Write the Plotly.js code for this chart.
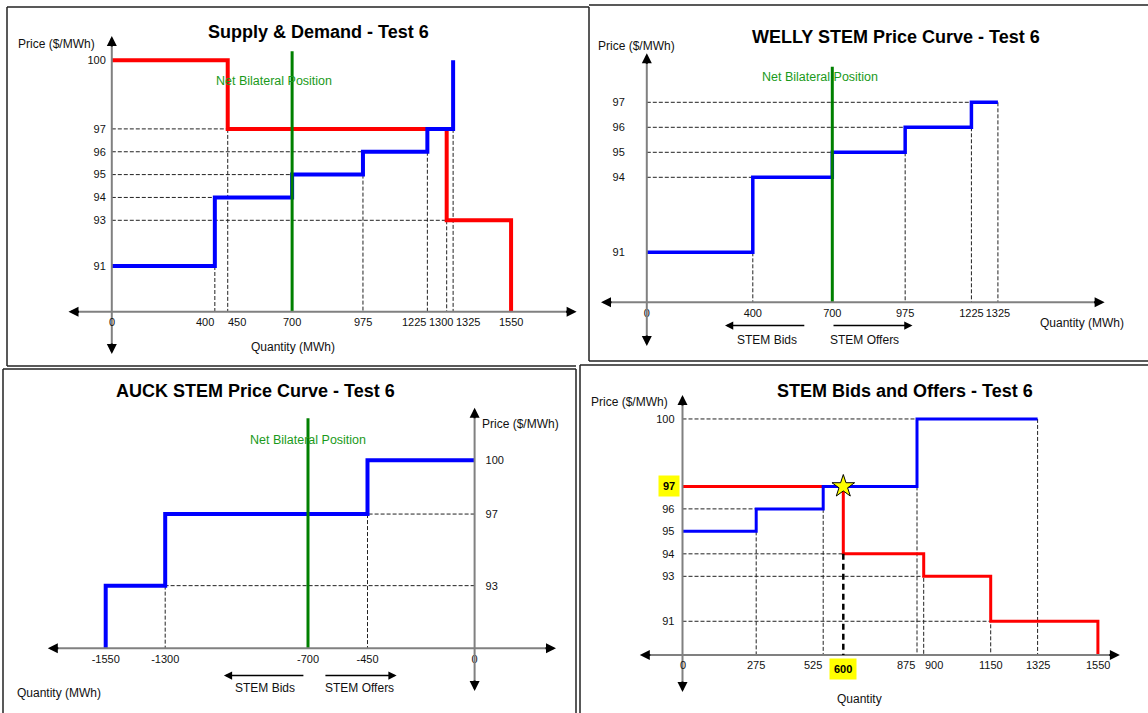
<!DOCTYPE html>
<html><head><meta charset="utf-8">
<script src="https://cdn.plot.ly/plotly-3.0.1.min.js"></script>
<style>html,body{margin:0;padding:0;background:#fff}#chart{width:1148px;height:713px}</style>
</head><body><div id="chart"></div>
<script>
// ---------- Panel 1: Supply & Demand - Test 6 ----------
const sdSupplyQty = [0, 400, 700, 975, 1225, 1325];
const sdSupplyPrice = [91, 94, 95, 96, 97];
const sdSupplyCap = 100;
const sdDemandQty = [0, 450, 1300, 1550];
const sdDemandPrice = [100, 97, 93];
const sdNetBilateral = 700;
const sdXTicks = [0, 400, 450, 700, 975, 1225, 1300, 1325, 1550];
const sdYTicks = [100, 97, 96, 95, 94, 93, 91];
const sdGuideHPrice = [97, 96, 95, 94, 93];
const sdGuideHQty = [450, 975, 700, 400, 1300];
const sdGuideVQty = [400, 450, 975, 1225, 1300, 1325];
const sdGuideVPrice = [91, 97, 95, 96, 93, 97];

// ---------- Panel 2: WELLY STEM Price Curve - Test 6 ----------
const wQty = [0, 400, 700, 975, 1225, 1325];
const wPrice = [91, 94, 95, 96, 97];
const wNetBilateral = 700;
const wXTicks = [0, 400, 700, 975, 1225, 1325];
const wYTicks = [97, 96, 95, 94, 91];
const wGuideHPrice = [97, 96, 95, 94];
const wGuideHQty = [1225, 975, 700, 400];
const wGuideVQty = [400, 975, 1225, 1325];
const wGuideVPrice = [91, 95, 96, 97];

// ---------- Panel 3: AUCK STEM Price Curve - Test 6 ----------
const aQty = [-1550, -1300, -450, 0];
const aPrice = [93, 97, 100];
const aNetBilateral = -700;
const aXTicks = [-1550, -1300, -700, -450, 0];
const aYTicks = [100, 97, 93];
const aGuideHPrice = [97, 93];
const aGuideHQty = [-450, -1300];
const aGuideVQty = [-1300, -450];
const aGuideVPrice = [93, 97];

// ---------- Panel 4: STEM Bids and Offers - Test 6 ----------
const bOfferQty = [0, 275, 525, 875, 1325];
const bOfferPrice = [95, 96, 97, 100];
const bBidQty = [0, 600, 900, 1150, 1550];
const bBidPrice = [97, 94, 93, 91];
const bClearQty = 600;
const bClearPrice = 97;
const bXTicks = [0, 275, 525, 875, 900, 1150, 1325, 1550];
const bYTicks = [100, 96, 95, 94, 93, 91];
const bGuideHPrice = [100, 96, 94, 93, 91];
const bGuideHQty = [875, 525, 600, 900, 1150];
const bGuideVQty = [275, 525, 875, 900, 1150, 1325];
const bGuideVPrice = [95, 96, 97, 94, 93, 100];

// ---------- layout geometry (pixels) ----------
const W = 1148, H = 713;
const P = x => x / W, Q = y => 1 - y / H;
const FONT = 'Liberation Sans, Arial, sans-serif';
const BLUE = '#0000ff', RED = '#ff0000', GREEN = '#008000', AXIS = '#808080';

// origin px, px-per-unit scales, axis floor price, axis extents px
const panels = [
  {ox:111.8, oy:311.7, xs:0.2576, ys:22.85, F:89,   xl:68.5,  xr:576.6,  yt:36,    yb:354, green:100.4, ystand:6,  side:'left',  labelAxis:false,
   shift:{400:-10, 450:9, 1225:-13, 1300:-6, 1325:15}},
  {ox:646.8, oy:302.3, xs:0.265,  ys:25.0,  F:89,   xl:601,   xr:1104.6, yt:53.3,  yb:346, green:98.42, ystand:22, side:'left',  labelAxis:true, shift:{}},
  {ox:474.6, oy:648.3, xs:0.238,  ys:17.9,  F:89.5, xl:47.8,  xr:556,    yt:407.7, yb:691, green:102.35, ystand:10, side:'right', labelAxis:true, shift:{}},
  {ox:682.5, oy:655,   xs:0.268,  ys:22.48, F:89.5, xl:639.8, xr:1119.9, yt:395,   yb:692, green:null, ystand:8, side:'left', labelAxis:false,
   shift:{525:-10, 875:-11, 900:10}}
];

function steps(q, p, startY, endY) {
  const x = [], y = [];
  if (startY !== undefined) { x.push(q[0]); y.push(startY); }
  for (let i = 0; i < p.length; i++) { x.push(q[i], q[i + 1]); y.push(p[i], p[i]); }
  if (endY !== undefined) { x.push(q[q.length - 1]); y.push(endY); }
  return {x, y};
}
const ax = i => i === 0 ? 'x' : 'x' + (i + 1);
const ay = i => i === 0 ? 'y' : 'y' + (i + 1);

const traces = [];
function line(i, xy, color, width) {
  traces.push({type:'scatter', mode:'lines', x:xy.x, y:xy.y, xaxis:ax(i), yaxis:ay(i),
    line:{color:color, width:width}, hoverinfo:'skip', showlegend:false});
}
function green(i, q) {
  const s = panels[i];
  line(i, {x:[q, q], y:[s.F, s.green]}, GREEN, 3);
}

// Panel 1
line(0, steps(sdDemandQty, sdDemandPrice, undefined, panels[0].F), RED, 4);
line(0, steps(sdSupplyQty, sdSupplyPrice, undefined, sdSupplyCap), BLUE, 4);
green(0, sdNetBilateral);
// Panel 2
line(1, steps(wQty, wPrice), BLUE, 3.5);
green(1, wNetBilateral);
// Panel 3
line(2, steps(aQty, aPrice, panels[2].F), BLUE, 4);
green(2, aNetBilateral);
// Panel 4
line(3, steps(bBidQty, bBidPrice, undefined, panels[3].F), RED, 3);
line(3, steps(bOfferQty, bOfferPrice), BLUE, 3);
traces.push({type:'scatter', mode:'markers', x:[bClearQty], y:[bClearPrice], xaxis:'x4', yaxis:'y4',
  marker:{symbol:'star', size:17, color:'#ffff00', line:{color:'#000', width:1}}, hoverinfo:'skip', showlegend:false});

const layout = {
  width:W, height:H, margin:{l:0, r:0, t:0, b:0},
  paper_bgcolor:'#fff', plot_bgcolor:'rgba(0,0,0,0)',
  font:{family:FONT, color:'#111', size:11},
  showlegend:false, shapes:[], annotations:[]
};

const xTickSets = [sdXTicks, wXTicks, aXTicks, bXTicks];
const yTickSets = [sdYTicks, wYTicks, aYTicks, bYTicks];
const TICKFONT = {size:11, color:'#111', family:FONT};

panels.forEach((s, i) => {
  const xr = [(s.xl - s.ox) / s.xs, (s.xr - s.ox) / s.xs];
  const yr = [s.F - (s.yb - s.oy) / s.ys, s.F + (s.oy - s.yt) / s.ys];
  const xk = i === 0 ? 'xaxis' : 'xaxis' + (i + 1);
  const yk = i === 0 ? 'yaxis' : 'yaxis' + (i + 1);
  layout[xk] = {domain:[P(s.xl), P(s.xr)], range:xr, anchor:'free', position:Q(s.oy),
    tickvals:xTickSets[i], ticktext:xTickSets[i].map(String), showticklabels:s.labelAxis, tickangle:0,
    ticks:'', showgrid:false, zeroline:false, showline:false, fixedrange:true, ticklabelstandoff:3,
    tickfont:TICKFONT};
  layout[yk] = {domain:[Q(s.yb), Q(s.yt)], range:yr, anchor:'free', position:P(s.ox), side:s.side,
    tickvals:yTickSets[i], ticktext:yTickSets[i].map(String), ticks:'', showgrid:false,
    zeroline:false, showline:false, fixedrange:true, ticklabelstandoff:s.ystand, tickfont:TICKFONT};
  // crowded quantity labels: placed at their values, nudged apart
  if (!s.labelAxis) {
    xTickSets[i].forEach(v => layout.annotations.push({xref:ax(i), yref:ay(i), x:v, y:s.F,
      text:String(v), showarrow:false, xanchor:'center', yanchor:'middle', yshift:-10,
      xshift:s.shift[v] || 0, font:TICKFONT}));
  }
  // axis lines
  layout.shapes.push({type:'line', xref:'paper', yref:'paper', x0:P(s.xl + 4), x1:P(s.xr - 4), y0:Q(s.oy), y1:Q(s.oy), line:{color:AXIS, width:2}});
  layout.shapes.push({type:'line', xref:'paper', yref:'paper', x0:P(s.ox), x1:P(s.ox), y0:Q(s.yb - 4), y1:Q(s.yt + 4), line:{color:AXIS, width:2}});
  // arrowheads
  const head = (x, y, dx, dy) => layout.annotations.push({xref:'paper', yref:'paper', x:P(x), y:Q(y), ax:dx, ay:dy,
    text:'', showarrow:true, arrowhead:2, arrowsize:1, arrowwidth:2, arrowcolor:'#000', standoff:0});
  head(s.xr, s.oy, -12, 0); head(s.xl, s.oy, 12, 0);
  head(s.ox, s.yt, 0, 12); head(s.ox, s.yb, 0, -12);
});

// dashed guide lines
function guides(i, hp, hq, vq, vp, hFrom) {
  const s = panels[i];
  hp.forEach((p, k) => layout.shapes.push({type:'line', layer:'below', xref:ax(i), yref:ay(i),
    x0:hFrom, x1:hq[k], y0:p, y1:p, line:{color:'#222', width:1, dash:'4px,2px'}}));
  vq.forEach((q, k) => layout.shapes.push({type:'line', layer:'below', xref:ax(i), yref:ay(i),
    x0:q, x1:q, y0:vp[k], y1:s.F, line:{color:'#222', width:1, dash:'4px,2px'}}));
}
guides(0, sdGuideHPrice, sdGuideHQty, sdGuideVQty, sdGuideVPrice, 0);
guides(1, wGuideHPrice, wGuideHQty, wGuideVQty, wGuideVPrice, 0);
guides(2, aGuideHPrice, aGuideHQty, aGuideVQty, aGuideVPrice, 0);
guides(3, bGuideHPrice, bGuideHQty, bGuideVQty, bGuideVPrice, 0);
layout.shapes.push({type:'line', xref:'x4', yref:'y4', x0:bClearQty, x1:bClearQty, y0:bBidPrice[1], y1:panels[3].F,
  line:{color:'#000', width:2.5, dash:'6px,4px'}});

// panel borders
const B = {color:'#222', width:1.5};
const pl = (x0, y0, x1, y1) => layout.shapes.push({type:'line', xref:'paper', yref:'paper', x0:P(x0), y0:Q(y0), x1:P(x1), y1:Q(y1), line:B});
pl(7, 7, 589, 7); pl(7, 7, 7, 366); pl(7, 366, 576, 366); pl(589, 7, 589, 361);
pl(589, 5, 1148, 5); pl(589, 361, 1148, 361);
pl(3, 369, 576, 369); pl(3, 369, 3, 713); pl(576, 369, 576, 713);
pl(580, 365, 1148, 365); pl(580, 365, 580, 713);

// texts
const T = (x, y, text, size, opts) => layout.annotations.push(Object.assign({xref:'paper', yref:'paper', x:P(x), y:Q(y),
  text:text, showarrow:false, xanchor:'center', yanchor:'middle', font:{family:FONT, size:size, color:'#111'}}, opts || {}));
const TF = {font:{family:FONT, size:18, color:'#000'}};
T(318, 32, '<b>Supply & Demand - Test 6</b>', 18, TF);
T(895.6, 37, '<b>WELLY STEM Price Curve - Test 6</b>', 18, TF);
T(255.8, 391, '<b>AUCK STEM Price Curve - Test 6</b>', 18, TF);
T(904.8, 391, '<b>STEM Bids and Offers - Test 6</b>', 18, TF);

T(56.5, 43.7, 'Price ($/MWh)', 12); T(293, 346.7, 'Quantity (MWh)', 12);
T(636.5, 45.7, 'Price ($/MWh)', 12); T(1081.6, 322.7, 'Quantity (MWh)', 12);
T(520.5, 423.7, 'Price ($/MWh)', 12); T(58.6, 692.7, 'Quantity (MWh)', 12);
T(629.5, 401.7, 'Price ($/MWh)', 12); T(859.3, 699.3, 'Quantity', 12);

const GT = {family:FONT, size:12.5, color:'#1a9a1a'};
T(274, 80.7, 'Net Bilateral Position', 12.5, {font:GT});
T(820.4, 77, 'Net Bilateral Position', 12.5, {font:GT});
T(307.8, 439.7, 'Net Bilateral Position', 12.5, {font:GT});

const arrow = (hx, y, tx) => layout.annotations.push({xref:'paper', yref:'paper', x:P(hx), y:Q(y), ax:tx - hx, ay:0,
  text:'', showarrow:true, arrowhead:2, arrowsize:1.1, arrowwidth:1.5, arrowcolor:'#000', standoff:0});
arrow(725, 325.5, 805.8); arrow(912.5, 325.5, 832);
T(766.5, 340, 'STEM Bids', 12); T(864, 340, 'STEM Offers', 12);
arrow(223.9, 675.5, 304.9); arrow(396.6, 675.5, 323.9);
T(265.3, 688, 'STEM Bids', 12); T(359, 688, 'STEM Offers', 12);

// highlighted clearing price / quantity labels
layout.annotations.push({xref:'x4', yref:'y4', x:0, y:bClearPrice, text:'<b>' + bClearPrice + '</b>', showarrow:false,
  xanchor:'right', yanchor:'middle', xshift:-3, bgcolor:'#ffff00', borderpad:4, font:{family:FONT, size:11, color:'#000'}});
layout.annotations.push({xref:'x4', yref:'y4', x:bClearQty, y:panels[3].F, text:'<b>' + bClearQty + '</b>', showarrow:false,
  xanchor:'center', yanchor:'top', yshift:-3, bgcolor:'#ffff00', borderpad:4, font:{family:FONT, size:11, color:'#000'}});

Plotly.newPlot('chart', traces, layout, {staticPlot:true, displayModeBar:false});
</script>
</body></html>
